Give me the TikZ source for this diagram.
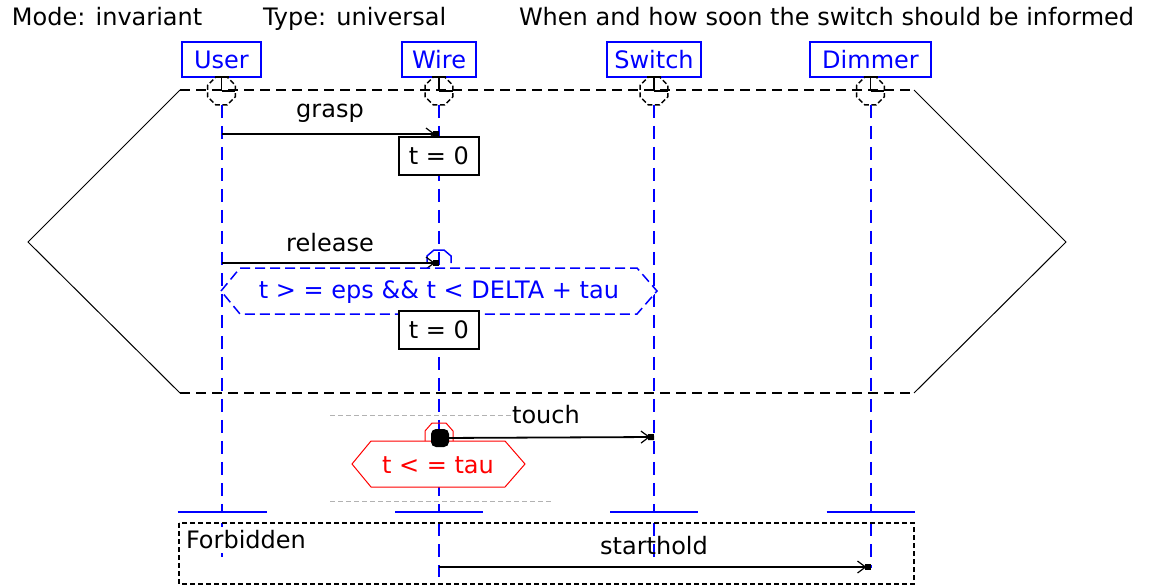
\documentclass[tikz,border=0pt]{standalone}
\usepackage{fontspec}
\setmainfont{DejaVu Sans}
\usetikzlibrary{arrows.meta,shapes.geometric,calc}
\newcommand\diafont{\fontsize{24}{28}\selectfont}
\begin{document}
\begin{tikzpicture}[x=1pt,y=-1pt,
  every node/.style={font=\diafont, inner sep=0pt, outer sep=0pt},
  lifebox/.style={draw=blue, text=blue, line width=1.5pt, minimum height=35pt, fill=white},
  life/.style={draw=blue, line width=2pt, dash pattern=on 13pt off 8pt},
  endbar/.style={draw=blue, line width=2.5pt},
  clk/.style={regular polygon, regular polygon sides=8, minimum size=30pt, draw=black, line width=1.5pt, dash pattern=on 5pt off 2.5pt},
  hand/.style={draw=black, line width=1.5pt},
  msg/.style={draw=black, line width=1.8pt, -{Straight Barb[length=8pt,width=12pt,line width=1.2pt,sep=-2pt] Square[length=6pt,width=6pt]}},
  resetbox/.style={draw=black, line width=1.5pt, fill=white, minimum width=80pt, minimum height=38pt},
  prechart/.style={draw=black, line width=1.5pt, dash pattern=on 10pt off 6pt},
  prechartside/.style={draw=black, line width=1pt},
  guard/.style={dash pattern=on 5pt off 3pt, line width=1pt},
]
\useasboundingbox (0,0) rectangle (1157,587);

% header
\node[anchor=base west] (mode) at (12,25) {Mode: invariant};
\node[anchor=base west] (type) at (263,25) {Type: universal};
\node[anchor=base west] (desc) at (519,25) {When and how soon the switch should be informed};

% prechart outline
\coordinate (ptl) at (180,90);
\coordinate (pl) at (28,242);
\coordinate (pbl) at (180,393);
\coordinate (ptr) at (914,90);
\coordinate (pr) at (1066,242);
\coordinate (pbr) at (914,393);
\draw[prechartside] (ptl) -- (pl) -- (pbl);
\draw[prechartside] (ptr) -- (pr) -- (pbr);
\draw[prechart] (ptl) -- (ptr);
\draw[prechart] (pbl) -- (pbr);

% instances with their clocks
\node[lifebox, minimum width=79pt] (user) at (221.5,59.5) {User};
\node[lifebox, minimum width=74pt] (wire) at (439,59.5) {Wire};
\node[lifebox, minimum width=94pt] (switch) at (654,59.5) {Switch};
\node[lifebox, minimum width=121pt] (dimmer) at (870.5,59.5) {Dimmer};

\foreach \n/\x in {cu/221.5, cw/439, cs/654, cd/870.5}{
  \node[clk] (\n) at (\x,91) {};
  \draw[hand] (\n.center) -- (\n.north);
  \draw[hand] (\n.center) -- (\n.east);
  \draw[hand] ([xshift=-7pt]\n.north) -- ([xshift=7pt]\n.north);
}

% lifelines and their end bars
\coordinate (ub) at (221.5,512);
\coordinate (wb) at (439,512);
\coordinate (sb) at (654,512);
\coordinate (db) at (870.5,512);
\draw[life] (cu.south) -- (ub);
\draw[life] (cw.south) -- (wb);
\draw[life] (cs.south) -- (sb);
\draw[life] (cd.south) -- (db);
\draw[endbar] ($(ub)+(-44,0)$) -- ($(ub)+(45,0)$);
\draw[endbar] ($(wb)+(-44,0)$) -- ($(wb)+(44,0)$);
\draw[endbar] ($(sb)+(-44,0)$) -- ($(sb)+(44,0)$);
\draw[endbar] ($(db)+(-44,0)$) -- ($(db)+(44,0)$);

\coordinate (ua) at (221.5,523); \coordinate (ue) at (221.5,557);
\coordinate (wa) at (439,523);   \coordinate (we) at (439,577);
\coordinate (sa) at (654,523);   \coordinate (se) at (654,557);
\coordinate (da) at (870.5,523); \coordinate (de) at (870.5,568);
\draw[life] (ua) -- (ue);
\draw[life] (wa) -- (we);
\draw[life] (sa) -- (se);
\draw[life] (da) -- (de);

% grasp
\coordinate (g1) at (221.5,134);
\coordinate (g2) at (439,134);
\draw[msg] (g1) -- (g2);
\node (lgrasp) at (330,113) {grasp};
\node[resetbox] (r1) at (439,156) {t = 0};

% release
\coordinate (rl1) at (221.5,263);
\coordinate (rl2) at (439,263);
\draw[blue, line width=1.5pt] (427,263) -- (427,256) -- (434,250) -- (444,250) -- (451,256) -- (451,263);
\draw[msg] (rl1) -- (rl2);
\node (lrelease) at (330,243) {release};

% condition of the prechart
\draw[blue, line width=1.5pt, dash pattern=on 10pt off 5pt, fill=white]
  (221,291) -- (240,268) -- (637,268) -- (657,291) -- (637,314) -- (240,314) -- cycle;
\node[text=blue] (cond) at (439,292) {t > = eps \&\& t < DELTA + tau};
\node[resetbox] (r2) at (439,330) {t = 0};

% main chart: touch
\draw[gray!60, guard] (330,415) -- (512,415);
\draw[gray!60, guard] (330,501) -- (552,501);
\draw[red, line width=1pt, fill=white]
  (352,464) -- (371,441) -- (505,441) -- (525,464) -- (505,487) -- (371,487) -- cycle;
\node[text=red] (hot) at (438,465) {t < = tau};
\draw[red, line width=1pt] (425,441) -- (425,431) -- (432,423) -- (446,423) -- (453,431) -- (453,441);
\node[fill=black, rounded corners=5pt, minimum size=18pt] (tstart) at (440,438) {};
\coordinate (t2) at (654,437);
\draw[msg] (tstart.center) -- (t2);
\node (ltouch) at (546,415) {touch};

% forbidden part
\draw[black, line width=1.5pt, dash pattern=on 5pt off 3pt] (179,523) rectangle (914,584);
\node[anchor=west, fill=white, minimum height=26pt] (forb) at (186,540) {Forbidden};
\coordinate (s1) at (439,567);
\coordinate (s2) at (870.5,567);
\draw[msg] (s1) -- (s2);
\node (lstart) at (654,546) {starthold};
\end{tikzpicture}
\end{document}
